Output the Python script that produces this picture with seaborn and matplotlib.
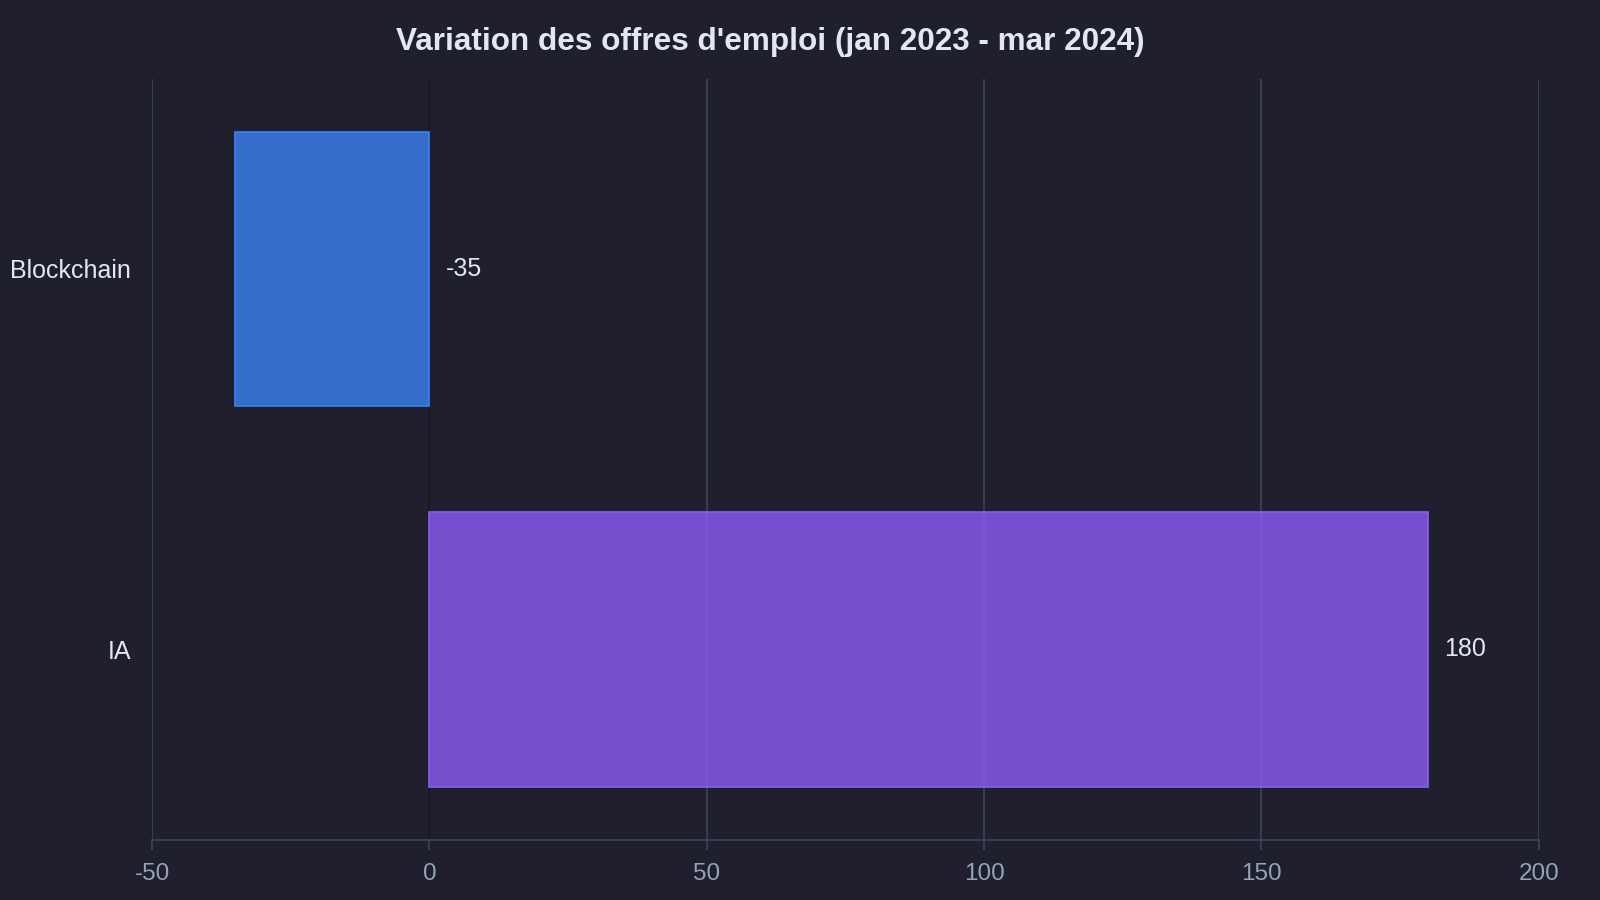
import matplotlib
matplotlib.use("Agg")
import matplotlib.pyplot as plt
import matplotlib.colors as mcolors
import seaborn as sns
import pandas as pd

categories = ["Blockchain", "IA"]
variation = [-35, 180]
bar_colors = ["#3b82f6", "#8b5cf6"]
x_ticks = [-50, 0, 50, 100, 150, 200]
title = "Variation des offres d'emploi (jan 2023 - mar 2024)"

BG = "#1f1f2e"
GRID = "#374357"
TICK = "#94a3b8"
TEXT = "#e2e8f0"

sns.set_theme(style="dark")
plt.rcParams["font.family"] = ["Liberation Sans", "DejaVu Sans"]

df = pd.DataFrame({"cat": categories, "val": variation})

fig = plt.figure(figsize=(16, 9), dpi=100, facecolor=BG)
ax = fig.add_axes([0.095, 0.0669, 0.8667, 0.8458])
ax.set_facecolor(BG)

sns.barplot(data=df, x="val", y="cat", hue="cat", palette=bar_colors,
            orient="h", width=0.72, legend=False, ax=ax, zorder=2)

for patch, c in zip(ax.patches, bar_colors):
    patch.set_facecolor(mcolors.to_rgba(c, 0.8))
    patch.set_edgecolor(c)
    patch.set_linewidth(1.2)

for i, v in enumerate(variation):
    ax.annotate(f"{v}", xy=(max(v, 0), i), xytext=(12, 0), textcoords="offset points",
                va="center", ha="left", color=TEXT, fontsize=18)

ax.set_xlim(-50, 200)
ax.set_ylim(1.5, -0.5)
ax.set_xticks(x_ticks)
ax.set_xticklabels([str(t) for t in x_ticks])
ax.set_xlabel("")
ax.set_ylabel("")

ax.grid(axis="x", color=GRID, linewidth=1.3, zorder=0)
ax.grid(axis="y", visible=False)
ax.set_axisbelow(True)
ax.axvline(0, color="#14141c", linewidth=1.3, zorder=1)

for side in ["top", "right", "left"]:
    ax.spines[side].set_visible(False)
ax.spines["bottom"].set_color(GRID)
ax.spines["bottom"].set_linewidth(1.3)

ax.tick_params(axis="x", colors=GRID, length=7, width=1.3, labelcolor=TICK,
               labelsize=17.5, pad=10, bottom=True)
ax.tick_params(axis="y", length=0, labelcolor=TEXT, labelsize=18, pad=15)

fig.text(0.4815, 0.953, title, ha="center", va="center", color=TEXT,
         fontsize=22.7, fontweight="bold")

fig.savefig("out.png", facecolor=BG)
